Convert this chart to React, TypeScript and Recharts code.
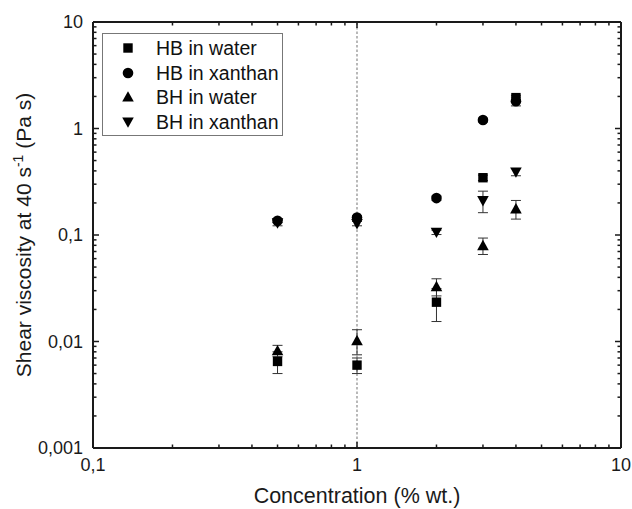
import React from 'react';
import { ScatterChart, Scatter, XAxis, YAxis, ErrorBar, ReferenceLine, Legend } from 'recharts';

const FONT = '"Liberation Sans", Arial, Helvetica, sans-serif';

const concentrations = [0.5, 1, 2, 3, 4];
const hbWater = [0.0065, 0.006, 0.0234, 0.345, 1.95];
const hbWaterErr = [0.0015, 0.001, 0.008, 0.02, 0.1];
const hbXanthan = [0.136, 0.146, 0.222, 1.2, 1.8];
const hbXanthanErr = [0.005, 0.005, 0.01, 0.05, 0.17];
const bhWater = [0.0082, 0.0102, 0.0328, 0.0796, 0.176];
const bhWaterErr = [0.001, 0.0027, 0.006, 0.014, 0.035];
const bhXanthan = [0.13, 0.128, 0.106, 0.21, 0.39];
const bhXanthanErr = [0.008, 0.006, 0.005, 0.048, 0.03];

const seriesNames = ['HB in water', 'HB in xanthan', 'BH in water', 'BH in xanthan'];

const xTicks = [0.1, 0.2, 0.3, 0.4, 0.5, 0.6, 0.7, 0.8, 0.9, 1, 2, 3, 4, 5, 6, 7, 8, 9, 10];
const xMajor = [0.1, 1, 10];
const yTicks = [
  0.001, 0.002, 0.003, 0.004, 0.005, 0.006, 0.007, 0.008, 0.009,
  0.01, 0.02, 0.03, 0.04, 0.05, 0.06, 0.07, 0.08, 0.09,
  0.1, 0.2, 0.3, 0.4, 0.5, 0.6, 0.7, 0.8, 0.9,
  1, 2, 3, 4, 5, 6, 7, 8, 9, 10,
];
const yMajor = [0.001, 0.01, 0.1, 1, 10];

const build = (vals: number[], errs: number[]) =>
  concentrations.map((c, i) => ({ x: c, y: vals[i], err: errs[i] }));

const dHbWater = build(hbWater, hbWaterErr);
const dHbXanthan = build(hbXanthan, hbXanthanErr);
const dBhWater = build(bhWater, bhWaterErr);
const dBhXanthan = build(bhXanthan, bhXanthanErr);

const fmt = (v: number) => String(v).replace('.', ',');
const isMajor = (list: number[], v: number) => list.some((m) => Math.abs(m - v) < 1e-12);

const AXIS = '#1a1a1a';
const MAJ = 6;
const MIN = 3.5;

const BottomTick = (p: any) => {
  const v = p.payload.value;
  const maj = isMajor(xMajor, v);
  return (
    <g>
      <line x1={p.x} x2={p.x} y1={p.y} y2={p.y - (maj ? MAJ : MIN)} stroke={AXIS} strokeWidth={1.5} />
      {maj && (
        <text x={p.x} y={p.y + 23} textAnchor="middle" fontFamily={FONT} fontSize={18} fill="#1a1a1a">
          {fmt(v)}
        </text>
      )}
    </g>
  );
};
const TopTick = (p: any) => {
  const v = p.payload.value;
  const maj = isMajor(xMajor, v);
  return <line x1={p.x} x2={p.x} y1={p.y} y2={p.y + (maj ? MAJ : MIN)} stroke={AXIS} strokeWidth={1.5} />;
};
const LeftTick = (p: any) => {
  const v = p.payload.value;
  const maj = isMajor(yMajor, v);
  return (
    <g>
      <line x1={p.x} x2={p.x + (maj ? MAJ : MIN)} y1={p.y} y2={p.y} stroke={AXIS} strokeWidth={1.5} />
      {maj && (
        <text x={p.x - 10} y={p.y + 6} textAnchor="end" fontFamily={FONT} fontSize={18} fill="#1a1a1a">
          {fmt(v)}
        </text>
      )}
    </g>
  );
};
const RightTick = (p: any) => {
  const v = p.payload.value;
  const maj = isMajor(yMajor, v);
  return <line x1={p.x} x2={p.x - (maj ? MAJ : MIN)} y1={p.y} y2={p.y} stroke={AXIS} strokeWidth={1.5} />;
};

const Square = (p: any) => <rect x={p.cx - 4.7} y={p.cy - 4.7} width={9.4} height={9.4} fill="#000" />;
const Dot = (p: any) => <circle cx={p.cx} cy={p.cy} r={5.3} fill="#000" />;
const TriUp = (p: any) => (
  <path d={`M${p.cx},${p.cy - 5.8} L${p.cx + 5.8},${p.cy + 4.6} L${p.cx - 5.8},${p.cy + 4.6} Z`} fill="#000" />
);
const TriDown = (p: any) => (
  <path d={`M${p.cx},${p.cy + 5.8} L${p.cx + 5.8},${p.cy - 4.6} L${p.cx - 5.8},${p.cy - 4.6} Z`} fill="#000" />
);
const Nothing = () => <g />;

const legendShapes = [Square, Dot, TriUp, TriDown];

const LegendBox = () => (
  <div
    style={{
      width: 181,
      height: 103,
      boxSizing: 'border-box',
      border: '1px solid #777',
      background: '#fff',
      paddingTop: 2,
      fontFamily: FONT,
    }}
  >
    {seriesNames.map((name, i) => {
      const Shape = legendShapes[i];
      return (
        <div key={name} style={{ height: 24.6, display: 'flex', alignItems: 'center' }}>
          <svg width={50} height={20} style={{ flex: 'none' }}>
            <Shape cx={25} cy={10} />
          </svg>
          <span style={{ fontSize: 19.5, color: '#111', marginLeft: 3, lineHeight: '20px' }}>{name}</span>
        </div>
      );
    })}
  </div>
);

const YLabel = (p: any) => {
  const vb = p.viewBox || {};
  const cy = (vb.y ?? 22) + (vb.height ?? 426) / 2;
  const cx = 31;
  return (
    <text
      x={cx}
      y={cy}
      transform={`rotate(-90, ${cx}, ${cy})`}
      textAnchor="middle"
      fontFamily={FONT}
      fontSize={21}
      fill="#1a1a1a"
    >
      <tspan>Shear viscosity at 40 s</tspan>
      <tspan dy={-8} fontSize={14}>-1</tspan>
      <tspan dy={8}> (Pa s)</tspan>
    </text>
  );
};

const XLabel = (p: any) => {
  const vb = p.viewBox || {};
  const cx = (vb.x ?? 93) + (vb.width ?? 528) / 2;
  return (
    <text x={cx} y={503} textAnchor="middle" fontFamily={FONT} fontSize={21.5} fill="#1a1a1a">
      Concentration (% wt.)
    </text>
  );
};

export default function App() {
  return (
    <div style={{ position: 'absolute', left: 0, top: 0, width: 632, height: 509, background: '#fff' }}>
      <ScatterChart width={632} height={509} margin={{ top: 0, right: 0, bottom: 0, left: 0 }}>
        <XAxis
          type="number"
          dataKey="x"
          scale="log"
          domain={[0.1, 10]}
          ticks={xTicks}
          interval={0}
          height={61}
          tickSize={0}
          tickMargin={0}
          tickLine={false}
          tick={<BottomTick />}
          axisLine={{ stroke: AXIS, strokeWidth: 2 }}
          label={<XLabel />}
          allowDataOverflow
        />
        <XAxis
          xAxisId="top"
          orientation="top"
          type="number"
          dataKey="x"
          scale="log"
          domain={[0.1, 10]}
          ticks={xTicks}
          interval={0}
          height={22}
          tickSize={0}
          tickMargin={0}
          tickLine={false}
          tick={<TopTick />}
          axisLine={{ stroke: AXIS, strokeWidth: 2 }}
          allowDataOverflow
        />
        <YAxis
          type="number"
          dataKey="y"
          scale="log"
          domain={[0.001, 10]}
          ticks={yTicks}
          interval={0}
          width={93}
          tickSize={0}
          tickMargin={0}
          tickLine={false}
          tick={<LeftTick />}
          axisLine={{ stroke: AXIS, strokeWidth: 2 }}
          label={<YLabel />}
          allowDataOverflow
        />
        <YAxis
          yAxisId="right"
          orientation="right"
          type="number"
          dataKey="y"
          scale="log"
          domain={[0.001, 10]}
          ticks={yTicks}
          interval={0}
          width={11}
          tickSize={0}
          tickMargin={0}
          tickLine={false}
          tick={<RightTick />}
          axisLine={{ stroke: AXIS, strokeWidth: 2 }}
          allowDataOverflow
        />
        <ReferenceLine x={1} stroke="#8a8a8a" strokeWidth={1.2} strokeDasharray="2.5 2" />
        <Scatter data={dHbWater} xAxisId="top" yAxisId="right" shape={<Nothing />} isAnimationActive={false} legendType="none" />
        <Scatter name={seriesNames[0]} data={dHbWater} shape={<Square />} isAnimationActive={false}>
          <ErrorBar dataKey="err" direction="y" width={5} stroke="#333" strokeWidth={1} />
        </Scatter>
        <Scatter name={seriesNames[1]} data={dHbXanthan} shape={<Dot />} isAnimationActive={false}>
          <ErrorBar dataKey="err" direction="y" width={5} stroke="#333" strokeWidth={1} />
        </Scatter>
        <Scatter name={seriesNames[2]} data={dBhWater} shape={<TriUp />} isAnimationActive={false}>
          <ErrorBar dataKey="err" direction="y" width={5} stroke="#333" strokeWidth={1} />
        </Scatter>
        <Scatter name={seriesNames[3]} data={dBhXanthan} shape={<TriDown />} isAnimationActive={false}>
          <ErrorBar dataKey="err" direction="y" width={5} stroke="#333" strokeWidth={1} />
        </Scatter>
        <Legend
          layout="vertical"
          align="center"
          verticalAlign="middle"
          wrapperStyle={{ position: 'absolute', left: 102, top: 33, width: 181, height: 103 }}
          content={() => <LegendBox />}
        />
      </ScatterChart>
    </div>
  );
}
